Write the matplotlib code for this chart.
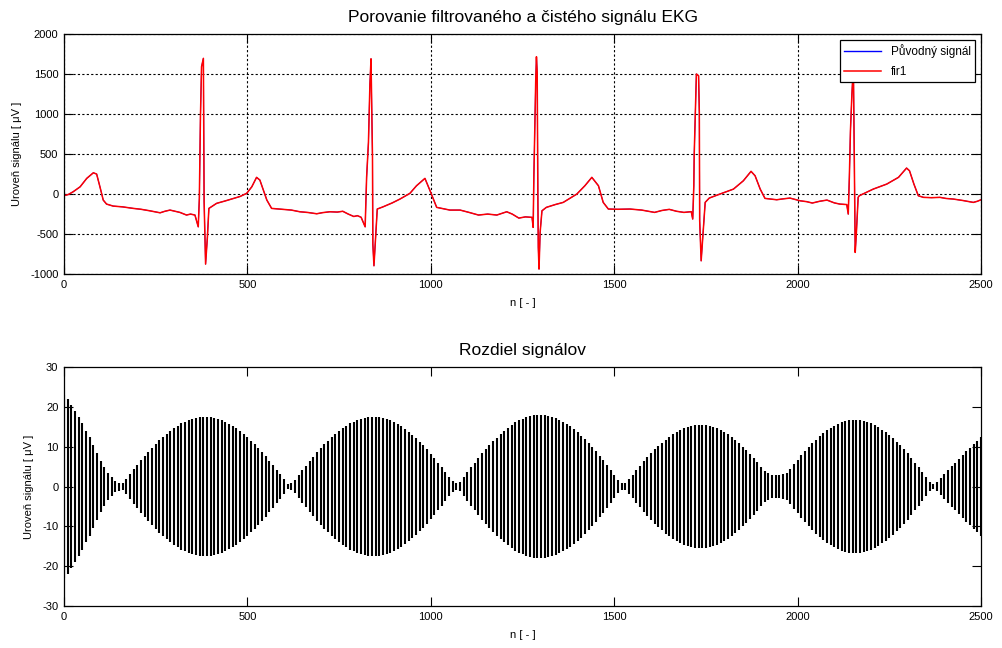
#!/usr/bin/env python3

import numpy as np
import matplotlib
matplotlib.use('Agg')
import matplotlib.pyplot as plt

plt.rcParams['font.family'] = ['Liberation Sans', 'DejaVu Sans']
plt.rcParams['axes.unicode_minus'] = False

# ECG: sample index and level in uV
ekg_n = [0, 12, 25, 44, 62, 80, 89, 98, 107, 116, 134, 160, 189, 210, 234, 262, 275, 289, 300,
         316, 334, 345, 357,
         366, 369, 372, 375, 380, 382, 386, 391, 395, 416, 440, 462, 480, 498, 512, 525, 534,
         553, 566, 598, 620, 643, 665, 689, 705, 725, 745, 760, 775, 790, 800, 810,
         821, 825, 830, 834, 837, 841, 842, 845, 850, 854, 870, 895, 916, 943, 961, 984, 998,
         1016, 1052, 1080, 1105, 1130, 1155, 1180, 1195, 1207, 1222, 1240, 1258, 1276,
         1279, 1281, 1284, 1286, 1288, 1290, 1292, 1293, 1295, 1298, 1303, 1315, 1340, 1361,
         1398, 1420, 1439, 1457, 1470, 1484, 1510, 1543, 1575, 1610, 1630, 1650, 1670, 1690, 1710,
         1714, 1717, 1718, 1722, 1724, 1730, 1732, 1733, 1737, 1742, 1748, 1759, 1788,
         1825, 1852, 1873, 1884, 1898, 1911, 1943, 1960, 1979, 2007, 2025, 2040, 2060, 2080,
         2100, 2115, 2134,
         2138, 2141, 2144, 2148, 2152, 2154, 2157, 2160, 2165, 2168, 2206, 2243, 2275,
         2297, 2305, 2317, 2329, 2343, 2365, 2388, 2405, 2424, 2450, 2479, 2490, 2500]
ekg_val = [-20, -5, 29, 91, 196, 266, 250, 91, -75, -125, -150, -160, -179, -190, -209, -234, -215,
           -200, -212, -229, -262, -250, -262,
           -409, -54, 966, 1591, 1696, -96, -875, -534, -179, -116, -85, -54, -30, 9, 91, 209, 175,
           -75, -179, -191, -200, -221, -230, -246, -232, -221, -225, -215, -250, -280, -270, -290,
           -409, 209, 646, 1375, 1690, 459, -625, -896, -500, -187, -159, -110, -62, 9, 104, 196, 41,
           -166, -200, -200, -230, -262, -250, -262, -240, -221, -250, -300, -285, -291,
           -416, 229, 937, 1416, 1716, 1521, -125, -666, -937, -479, -209, -166, -130, -104,
           0, 104, 209, 104, -104, -187, -190, -187, -200, -229, -205, -191, -215, -229, -220,
           -312, 104, 479, 1166, 1500, 1479, 1021, -334, -834, -500, -104, -50, 0,
           62, 166, 284, 229, 62, -54, -71, -60, -50, -84, -95, -112, -90, -75,
           -110, -125, -131,
           -250, 209, 791, 1250, 1600, 700, -729, -500, -41, -21, 62, 125, 209,
           325, 291, 125, -21, -41, -45, -41, -55, -62, -80, -104, -90, -71]

# difference signal: swing amplitude every 10 samples (uV)
diff_n = list(range(0, 2501, 10))
diff_amp = [
    23, 22, 20.5, 19, 17.5, 16, 14, 12.5, 10.5, 8.5, 6.5, 5, 3.5, 2.5, 1.5, 1,
    0.8, 2.0, 3.2, 4.3, 5.5, 6.6, 7.7, 8.7, 9.7, 10.7, 11.6, 12.5, 13.3, 14.0, 14.7, 15.3,
    15.9, 16.3, 16.7, 17.0, 17.3, 17.4, 17.5, 17.5, 17.4, 17.2, 17.0, 16.7, 16.3, 15.8, 15.2,
    14.6, 13.9, 13.2, 12.4, 11.5, 10.6, 9.6, 8.6, 7.6, 6.5, 5.4, 4.2, 3.1, 1.9, 0.7,
    0.8, 1.7, 2.9, 4.1, 5.2, 6.4, 7.5, 8.6, 9.6, 10.6, 11.5, 12.4, 13.2, 14.0, 14.7, 15.3,
    15.9, 16.3, 16.7, 17.0, 17.3, 17.4, 17.5, 17.5, 17.4, 17.2, 16.9, 16.6, 16.2, 15.7, 15.1,
    14.5, 13.8, 13.0, 12.1, 11.2, 10.3, 9.3, 8.2, 7.1, 6.0, 4.9, 3.7, 2.5, 1.3, 0.8,
    1.1, 2.4, 3.6, 4.8, 6.0, 7.2, 8.3, 9.4, 10.4, 11.4, 12.3, 13.2, 14.0, 14.8, 15.5, 16.1,
    16.6, 17.0, 17.4, 17.7, 17.9, 18.0, 18.0, 17.9, 17.8, 17.5, 17.2, 16.8, 16.3, 15.8, 15.1,
    14.4, 13.6, 12.8, 11.9, 10.9, 9.9, 8.8, 7.7, 6.6, 5.4, 4.2, 3.0, 1.7, 0.8,
    0.8, 1.9, 3.0, 4.1, 5.2, 6.3, 7.3, 8.4, 9.3, 10.2, 11.0, 11.8, 12.5, 13.2, 13.8, 14.3,
    14.7, 15.0, 15.2, 15.4, 15.5, 15.5, 15.4, 15.2, 14.9, 14.6, 14.2, 13.6, 13.1, 12.4, 11.7,
    10.9, 10.0, 9.1, 8.2, 7.1, 6.1, 5.0, 4.0, 3.3, 3.0, 2.8,
    2.8, 3.2, 3.5, 4.4, 5.6, 6.7, 7.8, 8.9, 9.9, 10.9, 11.8, 12.6, 13.4, 14.1, 14.7, 15.2,
    15.7, 16.1, 16.4, 16.6, 16.7, 16.7, 16.6, 16.5, 16.2, 15.9, 15.4, 14.9, 14.3, 13.7, 12.9,
    12.1, 11.2, 10.3, 9.3, 8.3, 7.2, 6.0, 4.9, 3.7, 2.5, 1.2, 0.7,
    1.2, 2.2, 3.2, 4.2, 5.1, 6.0, 7.0, 7.9, 8.8, 9.7, 10.6, 11.5, 12.4,
]

top_title = 'Porovanie filtrovaného a čistého signálu EKG'
bottom_title = 'Rozdiel signálov'
x_label = 'n [ - ]'
y_label = 'Uroveň signálu [ μV ]'
legend_labels = ['Původný signál', 'fir1']


def style_axes(ax):
    ax.tick_params(direction='in', length=6.5, width=0.8, top=True, right=True,
                   labelsize=8, pad=4)
    for sp in ax.spines.values():
        sp.set_linewidth(0.9)
        sp.set_color('black')
    ax.set_xlim(0, 2500)
    ax.set_xticks([0, 500, 1000, 1500, 2000, 2500])
    ax.set_xlabel(x_label, fontsize=8, labelpad=6)
    ax.set_ylabel(y_label, fontsize=8, labelpad=6)


def main():
    fig = plt.figure(figsize=(10.03, 6.48), dpi=100)
    ax1 = fig.add_axes([0.0638, 0.577, 0.9143, 0.3705])
    ax2 = fig.add_axes([0.0638, 0.0648, 0.9143, 0.3688])

    ax1.plot(ekg_n, ekg_val, color='blue', lw=0.7, label=legend_labels[0])
    ax1.plot(ekg_n, ekg_val, color='red', lw=1.1, label=legend_labels[1])
    style_axes(ax1)
    ax1.set_ylim(-1000, 2000)
    ax1.set_yticks(range(-1000, 2001, 500))
    ax1.grid(True, color='black', linestyle=(0, (2, 2)), linewidth=0.8)
    ax1.set_title(top_title, fontsize=12.5, pad=9)
    leg = ax1.legend(loc='upper right', bbox_to_anchor=(0.9935, 0.975), borderaxespad=0,
                     fontsize=8.5, fancybox=False, framealpha=1, edgecolor='black',
                     borderpad=0.35, handlelength=3.2, labelspacing=0.7)
    leg.get_frame().set_linewidth(0.9)
    leg.legend_handles[0].set_linewidth(1.0)

    amp = np.array(diff_amp)
    ax2.vlines(diff_n, -amp, amp, color='black', lw=1.5)
    style_axes(ax2)
    ax2.set_ylim(-30, 30)
    ax2.set_yticks(range(-30, 31, 10))
    ax2.set_title(bottom_title, fontsize=12.5, pad=9)

    fig.savefig('out.png', dpi=100)
    plt.close(fig)


if __name__ == '__main__':
    main()
